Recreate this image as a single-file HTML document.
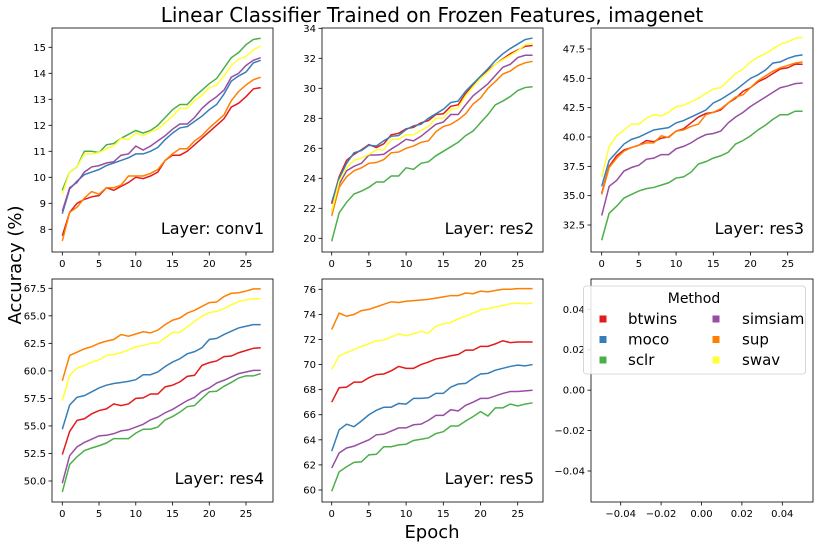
<!DOCTYPE html>
<html><head><meta charset="utf-8">
<style>body{margin:0;background:#fff}svg{display:block;font-family:"DejaVu Sans","Liberation Sans",sans-serif}</style>
</head><body>
<svg id="fig" width="827" height="548" xmlns="http://www.w3.org/2000/svg">
<text x="432" y="22" font-size="20" text-anchor="middle" fill="#000">Linear Classifier Trained on Frozen Features, imagenet</text>
<text transform="translate(21,265) rotate(-90)" font-size="18" text-anchor="middle" fill="#000">Accuracy (%)</text>
<text x="432" y="538" font-size="18" text-anchor="middle" fill="#000">Epoch</text>
</svg>
<script>
const methods = ["btwins","moco","sclr","simsiam","sup","swav"];
const colors = ["#e41a1c","#377eb8","#4daf4a","#984ea3","#ff7f00","#ffff33"];
const conv1 = {
btwins:[7.75,8.65,9.0,9.15,9.25,9.3,9.6,9.5,9.65,9.8,10.0,9.95,10.05,10.2,10.65,10.85,10.85,11.0,11.25,11.5,11.75,12.0,12.25,12.7,12.85,13.1,13.4,13.45],
moco:[8.6,9.55,9.85,10.1,10.2,10.3,10.45,10.55,10.65,10.75,10.9,10.9,11.0,11.15,11.45,11.7,11.9,11.95,12.15,12.35,12.6,12.8,13.2,13.7,13.9,14.05,14.4,14.5],
sclr:[9.5,10.2,10.4,11.0,11.0,10.95,11.25,11.3,11.5,11.65,11.8,11.7,11.8,12.0,12.3,12.6,12.8,12.8,13.1,13.35,13.6,13.8,14.2,14.6,14.8,15.1,15.3,15.35],
simsiam:[8.7,9.6,9.8,10.2,10.4,10.45,10.55,10.6,10.85,10.9,11.2,11.05,11.2,11.4,11.6,11.85,12.05,12.05,12.3,12.65,12.9,13.1,13.35,13.85,14.0,14.3,14.5,14.6],
sup:[7.55,8.65,8.85,9.2,9.45,9.35,9.6,9.6,9.7,10.05,10.05,10.05,10.15,10.3,10.65,10.9,11.1,11.1,11.4,11.6,11.9,12.15,12.4,12.95,13.3,13.55,13.75,13.85],
swav:[9.35,10.2,10.4,10.9,10.9,10.95,11.1,11.2,11.5,11.45,11.7,11.6,11.75,11.85,12.1,12.35,12.65,12.65,12.95,13.15,13.45,13.55,13.9,14.3,14.55,14.65,14.9,15.05]};
const res2 = {
btwins:[22.3,24.1,25.2,25.6,25.9,26.25,26.05,26.3,26.9,27.0,27.3,27.4,27.7,27.85,28.25,28.3,28.8,28.9,29.65,30.2,30.75,31.2,31.6,31.95,32.3,32.55,32.8,32.85],
moco:[22.4,24.0,25.0,25.7,25.85,26.2,26.15,26.5,26.8,26.85,27.25,27.5,27.6,28.0,28.3,28.6,29.05,29.15,29.8,30.3,30.8,31.3,31.85,32.3,32.65,32.95,33.25,33.35],
sclr:[19.8,21.7,22.4,22.95,23.15,23.4,23.75,23.75,24.15,24.15,24.7,24.6,25.0,25.1,25.5,25.8,26.1,26.4,26.85,27.15,27.7,28.25,28.9,29.15,29.45,29.85,30.05,30.1],
simsiam:[21.8,23.6,24.5,24.8,25.0,25.55,25.55,25.6,25.95,26.25,26.6,26.5,26.8,27.2,27.6,27.75,28.25,28.25,28.9,29.5,29.9,30.3,30.85,31.4,31.6,32.05,32.2,32.2],
sup:[21.5,23.4,24.1,24.5,24.7,25.0,25.05,25.25,25.7,25.75,26.0,26.15,26.4,26.5,27.1,27.45,27.6,27.9,28.3,28.95,29.35,30.0,30.45,30.95,31.15,31.5,31.7,31.8],
swav:[21.8,23.8,24.7,25.2,25.35,25.6,25.9,25.9,26.6,26.6,26.9,26.9,27.2,27.45,28.0,28.0,28.6,28.7,29.5,30.1,30.65,31.1,31.6,31.9,32.2,32.5,32.9,33.0]};
const res3 = {
btwins:[35.2,37.5,38.4,38.9,39.1,39.3,39.7,39.6,39.9,40.0,40.5,40.7,41.2,41.7,42.0,42.1,42.3,42.9,43.3,43.9,44.2,44.7,45.0,45.4,45.8,45.9,46.2,46.2],
moco:[35.8,38.0,38.7,39.4,39.8,40.0,40.3,40.6,40.7,40.8,41.2,41.4,41.7,42.0,42.3,42.9,43.2,43.6,44.0,44.5,45.0,45.3,45.7,46.3,46.4,46.7,46.9,47.0],
sclr:[31.2,33.5,34.1,34.8,35.1,35.4,35.6,35.7,35.9,36.1,36.5,36.6,37.0,37.7,37.9,38.2,38.4,38.7,39.4,39.7,40.1,40.6,41.0,41.5,41.9,41.9,42.2,42.2],
simsiam:[33.3,35.8,36.3,37.1,37.4,37.6,38.1,38.2,38.5,38.5,39.0,39.2,39.5,39.9,40.2,40.3,40.5,41.2,41.7,42.1,42.6,43.0,43.4,43.8,44.2,44.35,44.55,44.6],
sup:[35.1,37.4,38.2,38.8,39.1,39.3,39.5,39.5,40.1,39.95,40.5,40.6,40.9,41.1,41.9,42.1,42.4,42.9,43.4,43.6,44.2,44.8,45.2,45.6,45.9,46.1,46.3,46.4],
swav:[36.6,39.2,40.1,40.6,41.1,41.1,41.6,41.9,41.8,42.1,42.6,42.7,43.0,43.3,43.7,44.1,44.2,44.8,45.4,45.8,46.4,46.8,47.1,47.5,47.9,48.1,48.4,48.5]};
const res4 = {
btwins:[52.4,54.5,55.5,55.65,56.1,56.4,56.55,57.0,56.85,57.0,57.5,57.55,57.9,57.9,58.55,58.7,59.0,59.5,59.6,60.5,60.75,60.9,61.3,61.35,61.65,61.85,62.05,62.1],
moco:[54.7,56.9,57.6,57.75,58.1,58.45,58.7,58.85,58.95,59.05,59.2,59.65,59.65,59.9,60.4,60.8,61.1,61.55,61.75,62.1,62.85,62.95,63.3,63.6,63.9,64.05,64.2,64.2],
sclr:[49.0,51.5,52.2,52.75,53.0,53.2,53.45,53.85,53.85,53.85,54.35,54.7,54.7,54.9,55.55,55.85,56.25,56.75,56.85,57.5,58.1,58.15,58.6,58.95,59.35,59.55,59.55,59.75],
simsiam:[49.8,52.3,53.1,53.5,53.8,54.1,54.15,54.3,54.55,54.65,54.9,55.15,55.55,55.8,56.2,56.5,56.9,57.3,57.6,58.15,58.45,58.9,59.15,59.45,59.75,59.9,60.05,60.05],
sup:[59.1,61.4,61.7,62.0,62.2,62.5,62.7,62.85,63.3,63.15,63.35,63.55,63.45,63.7,64.2,64.6,64.8,65.25,65.5,65.85,66.2,66.25,66.75,67.05,67.1,67.25,67.45,67.45],
swav:[57.3,59.6,60.25,60.5,60.8,61.0,61.4,61.5,61.65,61.9,62.2,62.3,62.5,62.55,63.0,63.5,63.5,64.0,64.5,64.95,65.3,65.4,65.65,66.0,66.3,66.45,66.55,66.55]};
const res5 = {
btwins:[67.0,68.15,68.2,68.6,68.6,68.95,69.2,69.25,69.5,69.85,69.7,69.7,70.0,70.2,70.45,70.55,70.7,70.8,71.15,71.15,71.45,71.45,71.65,71.9,71.75,71.8,71.8,71.8],
moco:[63.1,64.8,65.25,65.05,65.5,66.0,66.35,66.6,66.6,66.9,66.85,67.3,67.3,67.35,67.7,67.7,68.2,68.45,68.5,68.9,69.25,69.3,69.55,69.7,69.85,69.95,69.9,70.0],
sclr:[59.9,61.45,61.85,62.2,62.25,62.8,62.85,63.45,63.45,63.6,63.65,63.95,64.05,64.15,64.5,64.65,65.1,65.1,65.5,65.85,66.25,65.9,66.55,66.55,66.85,66.7,66.85,66.95],
simsiam:[61.75,62.95,63.35,63.5,63.75,64.0,64.4,64.45,64.7,64.95,64.95,65.2,65.25,65.55,65.95,65.95,66.4,66.3,66.75,67.0,67.3,67.3,67.5,67.7,67.85,67.85,67.9,67.95],
sup:[72.8,74.1,73.85,74.0,74.3,74.4,74.6,74.8,75.0,74.95,75.05,75.1,75.15,75.2,75.3,75.4,75.5,75.5,75.7,75.65,75.85,75.8,75.9,76.0,76.0,76.05,76.05,76.05],
swav:[69.6,70.7,70.95,71.2,71.45,71.65,71.9,71.95,72.2,72.45,72.3,72.45,72.65,72.5,73.05,73.25,73.35,73.65,73.85,74.1,74.35,74.45,74.6,74.7,74.85,74.9,74.85,74.9]};
const xTicks = [0,5,10,15,20,25];
const yTicks1 = [8,9,10,11,12,13,14,15];
const yTicks2 = [20,22,24,26,28,30,32,34];
const yTicks3 = [32.5,35.0,37.5,40.0,42.5,45.0,47.5];
const yTicks4 = [50.0,52.5,55.0,57.5,60.0,62.5,65.0,67.5];
const yTicks5 = [60,62,64,66,68,70,72,74,76];
const emptyTicks = [-0.04,-0.02,0.00,0.02,0.04];

const NS="http://www.w3.org/2000/svg";
const svg=document.getElementById('fig');
function mk(tag,attrs,parent){const e=document.createElementNS(NS,tag);for(const k in attrs)e.setAttribute(k,attrs[k]);(parent||svg).appendChild(e);return e;}

const panels=[
 {name:"conv1",data:conv1,ticks:yTicks1,dec:0,L:52,R:273,T:28,B:252,x0:62.3,x25:246,yA:15,pA:47.3,yB:8,pB:229.3},
 {name:"res2",data:res2,ticks:yTicks2,dec:0,L:322,R:543,T:28,B:252,x0:331.7,x25:517.7,yA:34,pA:28.3,yB:20,pB:238.3},
 {name:"res3",data:res3,ticks:yTicks3,dec:1,L:591,R:813,T:28,B:252,x0:601.7,x25:787.7,yA:47.5,pA:49,yB:32.5,pB:225},
 {name:"res4",data:res4,ticks:yTicks4,dec:1,L:52,R:273,T:279,B:502,x0:62.3,x25:246,yA:67.5,pA:288.3,yB:50,pB:481},
 {name:"res5",data:res5,ticks:yTicks5,dec:0,L:322,R:543,T:279,B:502,x0:331.7,x25:517.7,yA:76,pA:289.3,yB:60,pB:490}
];
panels.forEach(p=>{
 const g=mk('g',{});
 
 
 const xs=i=>p.x0+(p.x25-p.x0)*i/25;
 const ys=v=>p.pB+(p.pA-p.pB)*(v-p.yB)/(p.yA-p.yB);
 methods.forEach((m,mi)=>{
  const pts=p.data[m].map((v,i)=>xs(i).toFixed(2)+','+ys(v).toFixed(2)).join(' ');
  const l=mk('polyline',{points:pts,fill:'none',stroke:colors[mi],'stroke-width':1.5},g);
  
  
 });
 const fr=mk('rect',{x:p.L,y:p.T,width:p.R-p.L,height:p.B-p.T,fill:'none',stroke:'#000','stroke-width':0.8},g);
 
 
 xTicks.forEach(t=>{const x=xs(t);mk('line',{x1:x,x2:x,y1:p.B,y2:p.B+3.5,stroke:'#000','stroke-width':0.8},g);
  const tx=mk('text',{x:x,y:p.B+15,'font-size':10,'text-anchor':'middle',fill:'#000'},g);tx.textContent=t;
  
  });
 p.ticks.forEach(t=>{const y=ys(t);mk('line',{x1:p.L-3.5,x2:p.L,y1:y,y2:y,stroke:'#000','stroke-width':0.8},g);
  const tx=mk('text',{x:p.L-6,y:y+3.5,'font-size':10,'text-anchor':'end',fill:'#000'},g);tx.textContent=t.toFixed(p.dec);
  
  });
 const lb=mk('text',{x:p.R-9,y:p.B-18,'font-size':16,'text-anchor':'end',fill:'#000'},g);
 lb.textContent='Layer: '+p.name;
 
 
});
(function(){
 const L=591,R=813,T=279,B=502;
 const g=mk('g',{});
 
 
 mk('rect',{x:L,y:T,width:R-L,height:B-T,fill:'none',stroke:'#000','stroke-width':0.8},g);
 const ys=v=>471+(309.3-471)*(v+0.04)/0.08;
 const xs=v=>620.7+(782.3-620.7)*(v+0.04)/0.08;
 emptyTicks.forEach(t=>{
  const y=ys(t);mk('line',{x1:L-3.5,x2:L,y1:y,y2:y,stroke:'#000','stroke-width':0.8},g);
  const a=mk('text',{x:L-6,y:y+3.5,'font-size':10,'text-anchor':'end',fill:'#000'},g);a.textContent=t.toFixed(2).replace('-','\u2212');
  
  
  const x=xs(t);mk('line',{x1:x,x2:x,y1:B,y2:B+3.5,stroke:'#000','stroke-width':0.8},g);
  const b=mk('text',{x:x,y:B+15,'font-size':10,'text-anchor':'middle',fill:'#000'},g);b.textContent=t.toFixed(2).replace('-','\u2212');
  
  
 });
 const lg=mk('g',{});
 
 
 mk('rect',{x:583.5,y:286,width:222,height:88,rx:3,fill:'#fff','fill-opacity':0.85,stroke:'#ccc','stroke-width':0.8},lg);
 const tt=mk('text',{x:694,y:303,'font-size':14,'text-anchor':'middle',fill:'#000'},lg);tt.textContent='Method';
 
 
 methods.forEach((m,i)=>{
  const col=Math.floor(i/3),row=i%3;
  const mx=col?716:603, y=319+row*20.5;
  const e=mk('g',{},lg);
  
  
  mk('rect',{x:mx-3.5,y:y-3.5,width:7,height:7,fill:colors[i]},e);
  const t=mk('text',{x:col?742:628,y:y+5,'font-size':15,fill:'#000'},e);t.textContent=m;
 });
})();
</script>
</body></html>
